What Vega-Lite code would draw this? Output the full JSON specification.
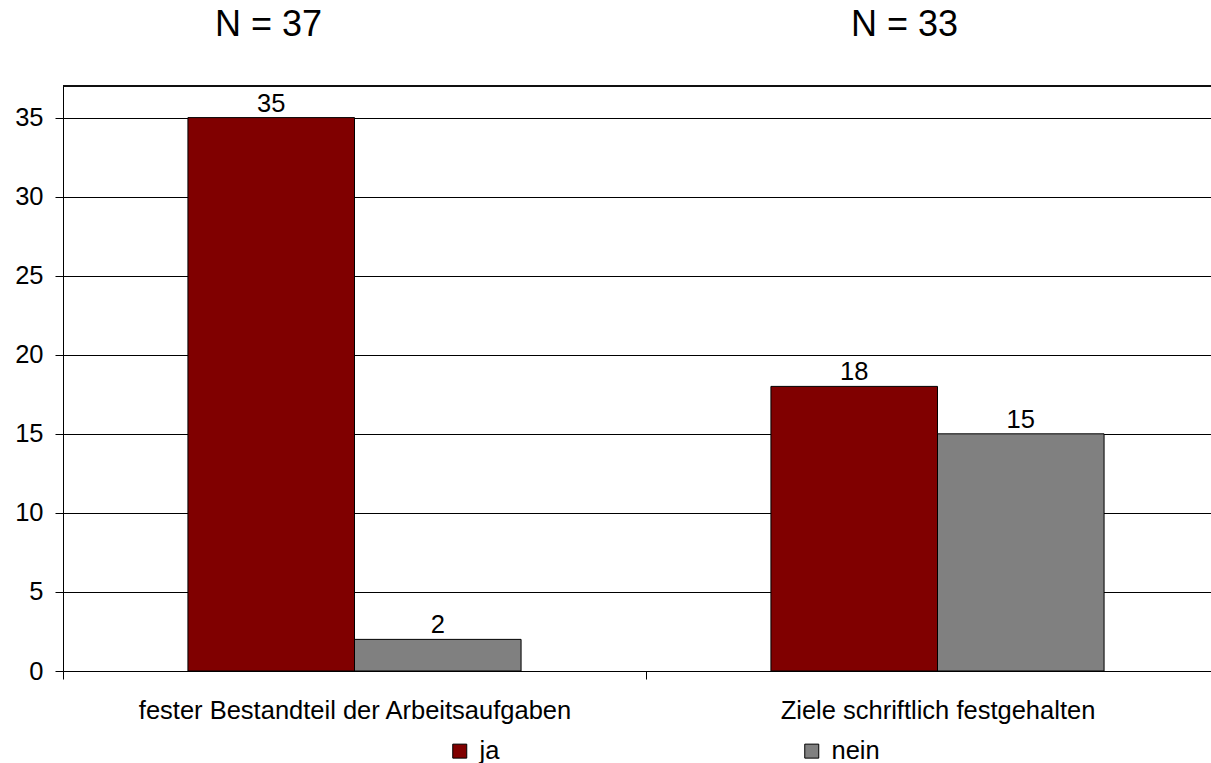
{
  "$schema": "https://vega.github.io/schema/vega-lite/v6.json",
  "autosize": {"type": "none"},
  "padding": {"left": 63, "top": 86, "right": 0, "bottom": 92},
  "width": 1148,
  "height": 585,
  "background": "white",
  "config": {
    "font": "Liberation Sans",
    "view": {"stroke": null},
    "axis": {"labelFont": "Liberation Sans", "labelColor": "black", "domainColor": "black", "tickColor": "black", "gridColor": "black", "gridOpacity": 1, "domainWidth": 1, "tickWidth": 1, "gridWidth": 1}
  },
  "data": {
    "values": [
      {"Kategorie": "fester Bestandteil der Arbeitsaufgaben", "Antwort": "ja", "Anzahl": 35},
      {"Kategorie": "fester Bestandteil der Arbeitsaufgaben", "Antwort": "nein", "Anzahl": 2},
      {"Kategorie": "Ziele schriftlich festgehalten", "Antwort": "ja", "Anzahl": 18},
      {"Kategorie": "Ziele schriftlich festgehalten", "Antwort": "nein", "Anzahl": 15}
    ]
  },
  "layer": [
    {
      "mark": {"type": "bar", "stroke": "black", "strokeWidth": 1},
      "encoding": {
        "x": {
          "field": "Kategorie", "type": "nominal", "sort": null,
          "scale": {"range": [0, 1166], "paddingInner": 0, "paddingOuter": 0},
          "axis": {"title": null, "labelAngle": 0, "labelFontSize": 25.5, "labelLimit": 800, "tickBand": "extent", "tickSize": 8, "labelBaseline": "alphabetic", "labelPadding": 39, "grid": false}
        },
        "xOffset": {"field": "Antwort", "type": "nominal", "scale": {"paddingInner": 0, "paddingOuter": 0.75}},
        "y": {
          "field": "Anzahl", "type": "quantitative",
          "scale": {"domain": [0, 37], "nice": false, "zero": true},
          "axis": {"title": null, "values": [0, 5, 10, 15, 20, 25, 30, 35], "labelFontSize": 25.5, "tickSize": 8, "labelPadding": 12, "grid": true}
        },
        "color": {
          "field": "Antwort", "type": "nominal",
          "scale": {"domain": ["ja", "nein"], "range": ["#800000", "#808080"]},
          "legend": {
            "title": null, "orient": "none", "direction": "horizontal", "legendX": 384, "legendY": 652,
            "symbolType": "square", "symbolSize": 196, "symbolStrokeColor": "black", "symbolStrokeWidth": 1, "symbolOpacity": 1,
            "labelFontSize": 25.5, "labelFont": "Liberation Sans", "labelColor": "black", "labelOffset": 7, "columnPadding": 299
          }
        }
      }
    },
    {
      "mark": {"type": "text", "fontSize": 25.5, "baseline": "alphabetic", "dy": -6, "color": "black"},
      "encoding": {
        "x": {"field": "Kategorie", "type": "nominal", "sort": null},
        "xOffset": {"field": "Antwort", "type": "nominal"},
        "y": {"field": "Anzahl", "type": "quantitative"},
        "text": {"field": "Anzahl", "type": "quantitative"}
      }
    },
    {
      "mark": {"type": "rule", "color": "black", "strokeWidth": 1},
      "encoding": {"y": {"datum": 37}}
    },
    {
      "data": {"values": [{"Kategorie": "fester Bestandteil der Arbeitsaufgaben", "N": "N = 37"}]},
      "mark": {"type": "text", "fontSize": 36, "baseline": "alphabetic", "dy": -50, "dx": -86, "color": "black"},
      "encoding": {"x": {"field": "Kategorie", "type": "nominal", "sort": null}, "y": {"datum": 37}, "text": {"field": "N"}}
    },
    {
      "data": {"values": [{"Kategorie": "Ziele schriftlich festgehalten", "N": "N = 33"}]},
      "mark": {"type": "text", "fontSize": 36, "baseline": "alphabetic", "dy": -50, "dx": -33, "color": "black"},
      "encoding": {"x": {"field": "Kategorie", "type": "nominal", "sort": null}, "y": {"datum": 37}, "text": {"field": "N"}}
    }
  ]
}
